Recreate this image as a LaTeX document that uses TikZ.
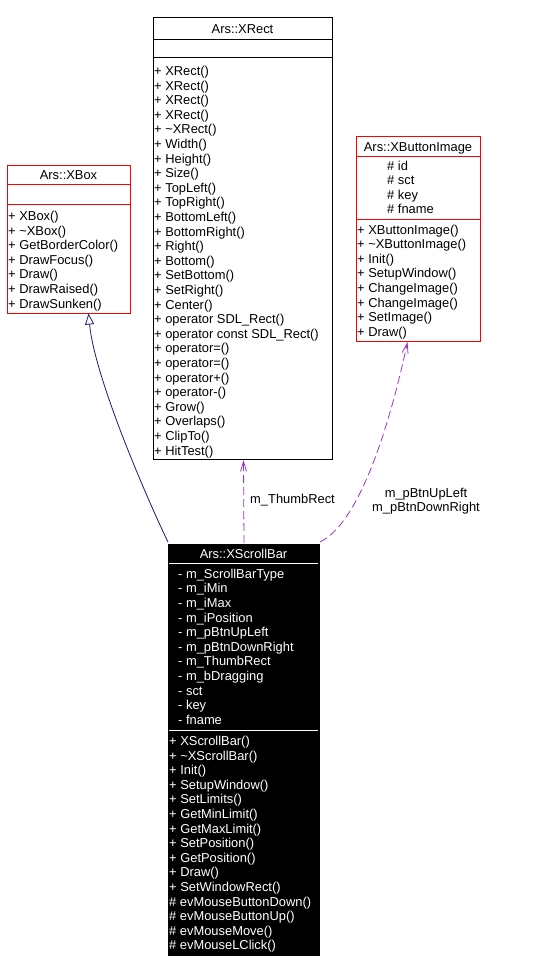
\documentclass[tikz,border=0pt]{standalone}
\usepackage{fontspec}
\setmainfont{Liberation Sans}
\usetikzlibrary{arrows.meta}
\definecolor{edgeblue}{RGB}{25,25,112}
\definecolor{usepurple}{RGB}{154,50,205}
\definecolor{boxred}{RGB}{255,0,0}
\begin{document}
\begin{tikzpicture}[x=1pt,y=-1pt,
  every node/.style={font=\fontsize{12.9}{14.6}\selectfont, inner sep=0pt},
  umlbox/.style={draw, line width=1pt, anchor=north west, inner sep=0pt},
  entry/.style={anchor=base west},
  ttl/.style={anchor=base},
  sepline/.style={line width=1pt},
  inherit/.style={draw=edgeblue, line width=0.8pt, -{Triangle[open, length=11pt, width=9pt]}},
  uses/.style={draw=usepurple, line width=0.8pt, dash pattern=on 8pt off 4pt, -{Straight Barb[length=10pt, width=6pt]}}
]
\useasboundingbox (0,0) rectangle (544,972);

% ---------------- Ars::XRect ----------------
\node (xrect) [umlbox, minimum width=179pt, minimum height=442pt] at (153,17) {};
\node (xrect-t) [ttl] at (242.5,33) {Ars::XRect};
\draw[sepline] (153,39) -- (332,39);
\draw[sepline] (153,57) -- (332,57);
\foreach \t [count=\i] in {+ XRect(), + XRect(), + XRect(), + XRect(), + \textasciitilde XRect(),
  + Width(), + Height(), + Size(), + TopLeft(), + TopRight(), + BottomLeft(), + BottomRight(),
  + Right(), + Bottom(), + SetBottom(), + SetRight(), + Center(), + operator SDL\_Rect(),
  + operator const SDL\_Rect(), + operator=(), + operator=(), + operator+(), + operator-(),
  + Grow(), + Overlaps(), + ClipTo(), + HitTest()}
  \node (xrect-m\i) [entry] at (154,{75.4+(\i-1)*14.6}) {\t};

% ---------------- Ars::XBox ----------------
\node (xbox) [umlbox, draw=boxred, minimum width=123pt, minimum height=148pt] at (7,164.5) {};
\node (xbox-t) [ttl] at (68.5,179) {Ars::XBox};
\draw[sepline, boxred] (7,184) -- (130,184);
\draw[sepline, boxred] (7,204.3) -- (130,204.3);
\foreach \t [count=\i] in {+ XBox(), + \textasciitilde XBox(), + GetBorderColor(), + DrawFocus(),
  + Draw(), + DrawRaised(), + DrawSunken()}
  \node (xbox-m\i) [entry] at (8,{220.4+(\i-1)*14.6}) {\t};

% ---------------- Ars::XButtonImage ----------------
\node (xbi) [umlbox, draw=boxred, minimum width=124pt, minimum height=205pt] at (356,136) {};
\node (xbi-t) [ttl] at (418,151) {Ars::XButtonImage};
\draw[sepline, boxred] (356,156.7) -- (480,156.7);
\draw[sepline, boxred] (356,219.3) -- (480,219.3);
\foreach \t [count=\i] in {\# id, \# sct, \# key, \# fname}
  \node (xbi-a\i) [entry] at (387,{170+(\i-1)*14.6}) {\t};
\foreach \t [count=\i] in {+ XButtonImage(), + \textasciitilde XButtonImage(), + Init(),
  + SetupWindow(), + ChangeImage(), + ChangeImage(), + SetImage(), + Draw()}
  \node (xbi-m\i) [entry] at (357,{234+(\i-1)*14.6}) {\t};

% ---------------- Ars::XScrollBar ----------------
\node (xsb) [umlbox, fill=black, minimum width=151pt, minimum height=411pt] at (168,544) {};
\node (xsb-t) [ttl, text=white] at (243.5,558.5) {Ars::XScrollBar};
\draw[sepline, white] (169,563.3) -- (318,563.3);
\draw[sepline, white] (169,730) -- (318,730);
\foreach \t [count=\i] in {- m\_ScrollBarType, - m\_iMin, - m\_iMax, - m\_iPosition,
  - m\_pBtnUpLeft, - m\_pBtnDownRight, - m\_ThumbRect, - m\_bDragging, - sct, - key, - fname}
  \node (xsb-a\i) [entry, text=white] at (178,{578.3+(\i-1)*14.6}) {\t};
\foreach \t [count=\i] in {+ XScrollBar(), + \textasciitilde XScrollBar(), + Init(), + SetupWindow(),
  + SetLimits(), + GetMinLimit(), + GetMaxLimit(), + SetPosition(), + GetPosition(), + Draw(),
  + SetWindowRect(), \# evMouseButtonDown(), \# evMouseButtonUp(), \# evMouseMove(),
  \# evMouseLClick()}
  \node (xsb-m\i) [entry, text=white] at (169,{745.5+(\i-1)*14.6}) {\t};

% ---------------- connectors ----------------
\draw[inherit] ([yshift=2pt]xsb.north west) .. controls (150,505) and (95,380) .. ([xshift=19.5pt]xbox.south);
\draw[uses] ([yshift=1pt]xsb.north) -- ([xshift=0.5pt]xrect.south);
\draw[uses] ([yshift=2pt]xsb.north east) .. controls (365,520) and (395,400) .. ([xshift=-11pt]xbi.south);

% ---------------- labels ----------------
\node (lbl-thumb) [anchor=west] at (250,500) {m\_ThumbRect};
\node (lbl-btn) [align=center] at (426,501) {m\_pBtnUpLeft\\m\_pBtnDownRight};
\end{tikzpicture}
\end{document}
